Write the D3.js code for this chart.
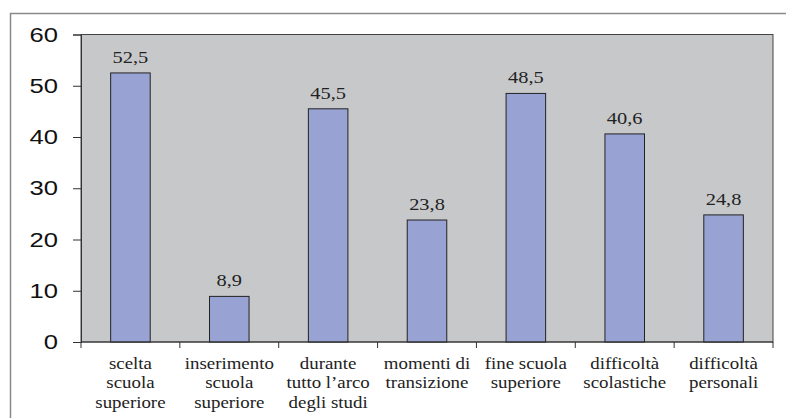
<!DOCTYPE html>
<html>
<head>
<meta charset="utf-8">
<script src="https://cdn.jsdelivr.net/npm/d3@7"></script>
<style>
  html, body { margin: 0; padding: 0; background: #fff; }
  svg { display: block; }
</style>
</head>
<body>
<svg id="chart" width="786" height="418"></svg>
<script>
// Categories (multi-line labels) and percentage values
const categories = [
  ["scelta", "scuola", "superiore"],
  ["inserimento", "scuola", "superiore"],
  ["durante", "tutto l\u2019arco", "degli studi"],
  ["momenti di", "transizione"],
  ["fine scuola", "superiore"],
  ["difficolt\u00e0", "scolastiche"],
  ["difficolt\u00e0", "personali"]
];
const values = [52.5, 8.9, 45.5, 23.8, 48.5, 40.6, 24.8];
const yTicks = [0, 10, 20, 30, 40, 50, 60];

const SERIF = '"Liberation Serif"';
const SANS = '"Liberation Sans"';
const STRETCH = 1.2; // glyphs are set slightly wide

const svg = d3.select("#chart");
const plot = { left: 81, top: 34.5, right: 773, bottom: 342 };

// Outer frame
svg.append("path")
  .attr("d", `M10.5,420 L10.5,13.5 L790,13.5`)
  .attr("fill", "none")
  .attr("stroke", "#8a8a8a")
  .attr("stroke-width", 1.5);

const xStep = d3.scaleBand()
  .domain(d3.range(categories.length))
  .range([plot.left, plot.right]);
const cx = i => xStep(i) + xStep.bandwidth() / 2;

const y = d3.scaleLinear().domain([0, 60]).range([plot.bottom, plot.top]);

// Plot area background
svg.append("rect")
  .attr("x", plot.left).attr("y", plot.top)
  .attr("width", plot.right - plot.left)
  .attr("height", plot.bottom - plot.top)
  .attr("fill", "#c7c8ca")
  .attr("stroke", "#444")
  .attr("stroke-width", 1);

// Bars
const barW = xStep.bandwidth() * 0.4;
svg.append("g").selectAll("rect")
  .data(values)
  .join("rect")
  .attr("x", (d, i) => cx(i) - barW / 2)
  .attr("y", d => y(d))
  .attr("width", barW)
  .attr("height", d => y(0) - y(d))
  .attr("fill", "#99a3d3")
  .attr("stroke", "#222")
  .attr("stroke-width", 1);

// Value labels
svg.append("g").selectAll("text")
  .data(values)
  .join("text")
  .attr("transform", (d, i) => `translate(${cx(i)},${y(d) - 10}) scale(${STRETCH},1)`)
  .attr("text-anchor", "middle")
  .style("font-family", SERIF)
  .style("font-size", "17px")
  .attr("fill", "#222")
  .text(d => d.toFixed(1).replace(".", ","));

// Y axis
const yAxis = svg.append("g")
  .attr("transform", `translate(${plot.left},0)`)
  .call(d3.axisLeft(y).tickValues(yTicks).tickSize(8).tickPadding(15).tickFormat(d3.format("d")));
yAxis.attr("font-family", null);
yAxis.select(".domain").attr("stroke", "#333");
yAxis.selectAll(".tick line").attr("stroke", "#333");
yAxis.selectAll(".tick text")
  .attr("x", -23 / 1.22)
  .attr("transform", "scale(1.22,1)")
  .style("font-family", SANS)
  .style("font-size", "21px")
  .attr("fill", "#111");

// X axis: boundary ticks between categories
const boundaries = d3.range(categories.length + 1).map(i => plot.left + i * xStep.step());
svg.append("line")
  .attr("x1", plot.left).attr("x2", plot.right)
  .attr("y1", plot.bottom).attr("y2", plot.bottom)
  .attr("stroke", "#333");
svg.append("g").selectAll("line")
  .data(boundaries)
  .join("line")
  .attr("x1", d => d).attr("x2", d => d)
  .attr("y1", plot.bottom).attr("y2", plot.bottom + 6)
  .attr("stroke", "#333");

// Category labels
const catG = svg.append("g").selectAll("text")
  .data(categories)
  .join("text")
  .attr("transform", (d, i) => `translate(${cx(i)},369) scale(1.18,1)`)
  .attr("text-anchor", "middle")
  .style("font-family", SERIF)
  .style("font-size", "16px")
  .attr("fill", "#222");
catG.each(function(lines) {
  d3.select(this).selectAll("tspan")
    .data(lines)
    .join("tspan")
    .attr("x", 0)
    .attr("y", (l, k) => k * 19.5)
    .text(l => l);
});
</script>
</body>
</html>
